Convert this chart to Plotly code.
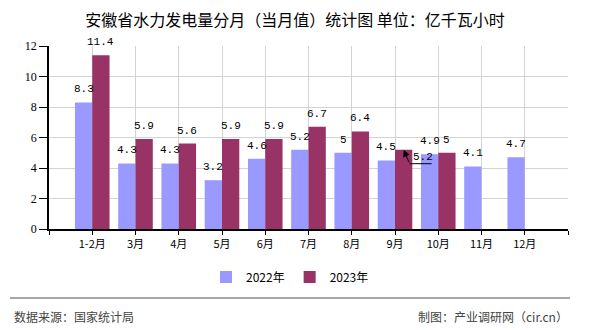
import plotly.graph_objects as go

# Monthly hydropower generation, Anhui (100 million kWh)
categories = ["1-2月", "3月", "4月", "5月", "6月", "7月", "8月", "9月", "10月", "11月", "12月"]
values_2022 = [8.3, 4.3, 4.3, 3.2, 4.6, 5.2, 5.0, 4.5, 4.9, 4.1, 4.7]
values_2023 = [11.4, 5.9, 5.6, 5.9, 5.9, 6.7, 6.4, 5.2, 5.0, None, None]
series_names = ["2022年", "2023年"]
series_colors = ["#9999FF", "#993366"]
y_ticks = [0, 2, 4, 6, 8, 10, 12]

W, H = 590, 330
ML, MR, MT, MB = 49, 22, 46, 101
PW, PH = W - ML - MR, H - MT - MB

def px_x(p):
    return (p - ML) / PW

def px_y(p):
    return (H - MB - p) / PH

xpos = list(range(len(categories)))
label_font = dict(family="Liberation Mono, DejaVu Sans Mono, monospace", size=11, color="#000")
cjk = "SimSun, Noto Sans CJK SC, sans-serif"

fig = go.Figure()
for name, vals, color in zip(series_names, [values_2022, values_2023], series_colors):
    fig.add_trace(go.Bar(
        x=xpos, y=vals, name=name, marker=dict(color=color, line=dict(width=0)),
        hoverinfo="skip",
    ))

# value labels above each bar
offsets = [-0.2, 0.2]
annotations = []
for off, vals in zip(offsets, [values_2022, values_2023]):
    for i, v in enumerate(vals):
        if v is None:
            continue
        if off > 0 and categories[i] == "9月":
            # this label is pushed aside with a leader line
            annotations.append(dict(
                x=i + off, y=v, xref="x", yref="y", text="", showarrow=True,
                ax=6, ay=14, arrowhead=2, arrowsize=1.4, arrowwidth=1,
                arrowcolor="#000", standoff=0,
            ))
            annotations.append(dict(
                x=i + off, y=v, xref="x", yref="y", text=f"{v:g}", showarrow=False,
                xanchor="left", yanchor="middle", xshift=7, yshift=-7, font=label_font,
            ))
            fig.add_shape(
                type="line", xref="x", yref="y", xsizemode="pixel", ysizemode="pixel",
                xanchor=i + off, yanchor=v, x0=6, x1=28, y0=-14, y1=-14,
                line=dict(color="#000", width=1),
            )
            continue
        annotations.append(dict(
            x=i + off, y=v, xref="x", yref="y", text=f"{v:g}", showarrow=False,
            xanchor="center", yanchor="bottom", yshift=5, font=label_font,
        ))

# footer texts
annotations.append(dict(
    x=px_x(12), y=px_y(316), xref="paper", yref="paper", text="数据来源：国家统计局",
    showarrow=False, xanchor="left", yanchor="middle",
    font=dict(family=cjk, size=12, color="#444"),
))
annotations.append(dict(
    x=px_x(570), y=px_y(316), xref="paper", yref="paper", text="制图：产业调研网（cir.cn）",
    showarrow=False, xanchor="right", yanchor="middle",
    font=dict(family=cjk, size=12, color="#444"),
))

fig.add_shape(
    type="line", xref="paper", yref="paper",
    x0=px_x(10), x1=px_x(570), y0=px_y(298), y1=px_y(298),
    line=dict(color="#888", width=1.5),
)

fig.update_layout(
    width=W, height=H,
    margin=dict(l=ML, r=MR, t=MT, b=MB, autoexpand=False),
    paper_bgcolor="#fff", plot_bgcolor="#fff",
    barmode="group", bargap=0.2, bargroupgap=0,
    title=dict(
        text="安徽省水力发电量分月（当月值）统计图 单位：亿千瓦小时",
        x=0.5, xanchor="center", y=1 - 20 / H, yanchor="middle",
        font=dict(family=cjk, size=16, color="#000"),
    ),
    xaxis=dict(
        range=[-1, len(categories)],
        tickvals=list(range(-1, len(categories) + 1)),
        ticktext=[""] + categories + [""],
        showgrid=True, gridcolor="#d3d3d3", gridwidth=1,
        showline=True, linecolor="#000", linewidth=1.5,
        ticks="outside", ticklen=4, tickcolor="#000",
        tickfont=dict(family=cjk, size=11, color="#000"),
        zeroline=False, fixedrange=True,
    ),
    yaxis=dict(
        range=[0, 12], tickvals=y_ticks,
        showgrid=True, gridcolor="#d3d3d3", gridwidth=1,
        showline=True, linecolor="#000", linewidth=1.5,
        ticks="outside", ticklen=8, tickcolor="#000",
        tickfont=dict(family="Liberation Serif, DejaVu Serif, serif", size=12, color="#000"),
        zeroline=False, fixedrange=True,
    ),
    legend=dict(
        orientation="h", x=px_x(290), xanchor="center", y=px_y(277), yanchor="middle",
        font=dict(family=cjk, size=12, color="#000"),
        itemwidth=30, bgcolor="rgba(0,0,0,0)",
    ),
    annotations=annotations,
    showlegend=True,
)

fig.write_html("out.html")
